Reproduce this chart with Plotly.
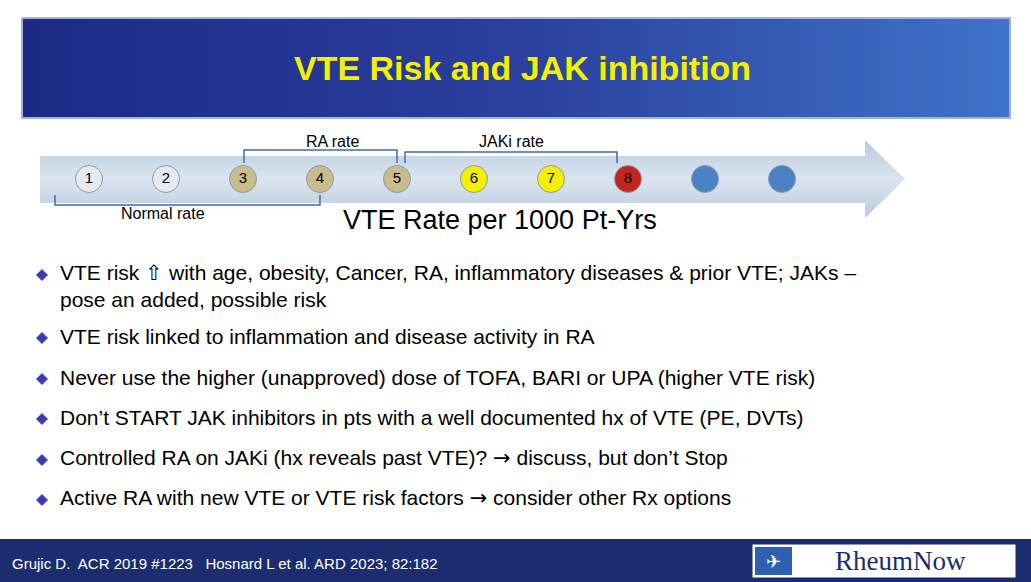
import plotly.graph_objects as go

circle_labels = ["1", "2", "3", "4", "5", "6", "7", "8", "", ""]
circle_colors = ["#e6ebf1", "#e6ebf1", "#c9bd8c", "#c9bd8c", "#c9bd8c",
                 "#f6ef00", "#f6ef00", "#c4261b", "#4a82c4", "#4a82c4"]
bullets = [
    "VTE risk ⇧ with age, obesity, Cancer, RA, inflammatory diseases & prior VTE; JAKs –<br>pose an added, possible risk",
    "VTE risk linked to inflammation and disease activity in RA",
    "Never use the higher (unapproved) dose of TOFA, BARI or UPA (higher VTE risk)",
    "Don’t START JAK inhibitors in pts with a well documented hx of VTE (PE, DVTs)",
    "Controlled RA on JAKi (hx reveals past VTE)? <span style='font-family:DejaVu Sans'>→</span> discuss, but don’t Stop",
    "Active RA with new VTE or VTE risk factors <span style='font-family:DejaVu Sans'>→</span> consider other Rx options",
]
bullet_y = [275, 338, 379, 419, 460, 500]
FONT = "Liberation Sans, Arial, sans-serif"

fig = go.Figure()
fig.add_trace(go.Scatter(x=[22, 1010, 1010, 22, 22], y=[18, 18, 118, 118, 18], mode="lines",
    fill="toself", line=dict(color="#9fb4d8", width=2),
    fillgradient=dict(type="horizontal", colorscale=[[0, "#1c2a86"], [0.5, "#2a3f9e"], [1, "#3f73c9"]]),
    hoverinfo="skip", showlegend=False))
fig.add_trace(go.Scatter(x=[40, 865, 865, 905, 865, 865, 40, 40],
    y=[156, 156, 140, 179, 218, 203, 203, 156], mode="lines", fill="toself",
    line=dict(color="rgba(0,0,0,0)", width=0),
    fillgradient=dict(type="vertical", colorscale=[[0, "#b9cadc"], [0.5, "#dbe5ef"], [1, "#b9cadc"]]),
    hoverinfo="skip", showlegend=False))
cx = [89 + i * 77 for i in range(len(circle_labels))]
fig.add_trace(go.Scatter(x=cx, y=[179] * len(cx), mode="markers+text", text=circle_labels,
    textposition="middle center", textfont=dict(family=FONT, size=15, color="black"),
    marker=dict(size=27, color=circle_colors, line=dict(color="#8a9bb0", width=1)),
    hoverinfo="skip", showlegend=False))
fig.add_trace(go.Scatter(x=[42] * len(bullet_y), y=bullet_y, mode="markers",
    marker=dict(symbol="diamond", size=9, color="#3b3bb0", line=dict(color="#9090e0", width=1)),
    hoverinfo="skip", showlegend=False))

shapes = [
    dict(type="rect", x0=0, x1=1031, y0=539, y1=582, fillcolor="#1b2d6e", line=dict(width=0), layer="below"),
    dict(type="rect", x0=752, x1=1016, y0=544, y1=578, fillcolor="white", line=dict(color="#1b2d6e", width=1)),
    dict(type="rect", x0=755, x1=792, y0=547, y1=575, fillcolor="#2f5fb0", line=dict(width=0)),
    dict(type="path", path="M 244 163 L 244 150 L 397 150 L 397 163", line=dict(color="#3a6db5", width=1.5)),
    dict(type="path", path="M 405 163 L 405 152 L 617 152 L 617 163", line=dict(color="#3a6db5", width=1.5)),
    dict(type="path", path="M 55 195 L 55 205 L 320 205 L 320 195", line=dict(color="#3a6db5", width=1.5)),
]
ann = [
    dict(x=522, y=68, text="<b>VTE Risk and JAK inhibition</b>", font=dict(family=FONT, size=34, color="#f5f000")),
    dict(x=332, y=141, text="RA rate", font=dict(family=FONT, size=16, color="black")),
    dict(x=511, y=141, text="JAKi rate", font=dict(family=FONT, size=16, color="black")),
    dict(x=163, y=213, text="Normal rate", font=dict(family=FONT, size=16, color="black")),
    dict(x=500, y=220, text="VTE Rate per 1000 Pt-Yrs", font=dict(family=FONT, size=27, color="black")),
    dict(x=10, y=563, text="Grujic D.  ACR 2019 #1223   Hosnard L et al. ARD 2023; 82:182", xanchor="left",
         font=dict(family=FONT, size=15, color="white")),
    dict(x=773, y=561, text="✈", font=dict(family="DejaVu Sans", size=18, color="white")),
    dict(x=900, y=561, text="RheumNow", font=dict(family="Liberation Serif, serif", size=27, color="#1b2d6e")),
]
for t, y in zip(bullets, bullet_y):
    ann.append(dict(x=58, y=y - 2 if "<br>" not in t else y + 11, text=t, xanchor="left", align="left",
                    font=dict(family=FONT, size=21, color="black")))
for a in ann:
    a.setdefault("showarrow", False)
    a.setdefault("xref", "x"); a.setdefault("yref", "y")

fig.update_layout(width=1031, height=582, margin=dict(l=0, r=0, t=0, b=0),
    paper_bgcolor="white", plot_bgcolor="white", shapes=shapes, annotations=ann,
    xaxis=dict(range=[0, 1031], visible=False, fixedrange=True),
    yaxis=dict(range=[582, 0], visible=False, fixedrange=True))
fig.write_html("out.html", config={"displayModeBar": False})

with open("out.html", encoding="utf-8") as f:
    html = f.read()
html = html.replace("<head>", "<head><style>html,body{margin:0;padding:0;overflow:hidden;}</style>", 1)
with open("out.html", "w", encoding="utf-8") as f:
    f.write(html)
